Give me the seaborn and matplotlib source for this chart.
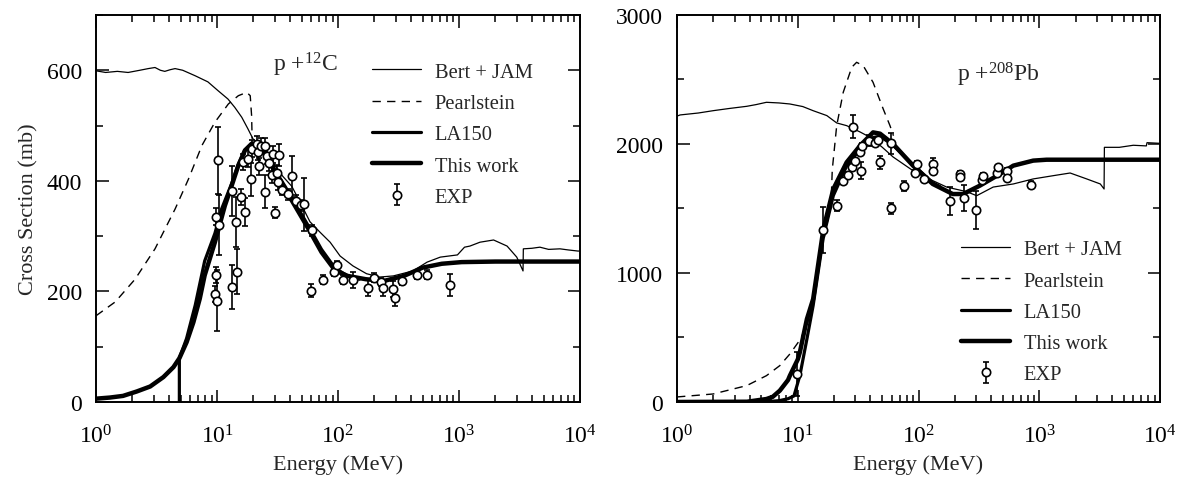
import numpy as np
import pandas as pd
import matplotlib
matplotlib.use('Agg')
import matplotlib.pyplot as plt
from matplotlib.ticker import MultipleLocator, LogLocator, NullFormatter
import seaborn as sns

# --- p + 12C ---
c_bert_e = [1, 1.2, 1.5, 1.84, 2.3, 2.7, 3.07, 3.4, 3.7, 4.1, 4.5, 5.2, 6.6, 8.4, 10.2, 12.3, 14, 16,
            18, 19.8, 22, 26, 30, 35, 41.5, 50, 58.6, 71, 86, 104, 133, 172, 221, 286, 416, 545, 700,
            970, 1110, 1230, 1490, 1930, 2495, 3000, 3380, 3400, 4000, 4660, 5500, 6830, 8000, 9600, 10000]
c_bert_s = [599, 596, 598, 596, 600, 603, 605, 600, 598, 601, 603, 600, 590, 579, 563, 548, 533, 515,
            494, 476, 466, 448, 428, 408, 390, 356, 326, 307, 289, 264, 246, 232, 226, 228, 237, 253, 262,
            266, 280, 282, 289, 293, 282, 262, 237, 277, 278, 280, 276, 277, 275, 273, 273]

c_pearl_e = [1, 1.44, 2.1, 3.07, 4.5, 5.8, 7.5, 9.6, 12.4, 15, 17.6, 18.8, 19.3, 19.5]
c_pearl_s = [156, 181, 222, 277, 349, 403, 464, 506, 539, 554, 560, 554, 518, 476]

c_la150_e = [4.88, 4.88, 5.6, 6.6, 7.9, 9.6, 10.9, 13.2, 15, 17, 19.3, 22, 24.9, 30, 36.5, 44, 57, 73,
             94.5, 120, 150]
c_la150_s = [0, 79, 115, 175, 255, 305, 349, 395, 430, 456, 467, 468, 455, 420, 390, 360, 318, 276,
             242, 228, 222]

c_work_e = [1, 1.3, 1.67, 2.17, 2.8, 3.6, 4.36, 4.88, 5.6, 6.37, 7.2, 7.9, 9.6, 11.6, 13.2, 15, 17,
            19.3, 22, 24.9, 30, 36.5, 44, 57, 73, 94.5, 120, 170, 240, 350, 500, 720, 1050, 2000,
            5000, 10000]
c_work_s = [6, 8, 11, 19, 28, 45, 63, 79, 108, 144, 187, 229, 289, 355, 391, 428, 455,
            467, 467, 452, 416, 385, 355, 313, 271, 238, 228, 222, 219, 228, 243, 250, 253, 254,
            254, 254]

c_exp_e = [9.7, 9.8, 9.8, 10.0, 10.1, 10.4, 13.2, 13.3, 14.3, 14.6, 15.8, 16.3, 17.0, 18.0, 19.1, 19.3,
           21.3, 21.8, 22.3, 23.0, 24.9, 24.9, 25.8, 26.8, 28.6, 29.0, 30.0, 31.0, 32.0, 32.5, 34.5,
           38.5, 41.5, 45.0, 49.0, 52.4, 60.6, 60.0, 75.0, 93.0, 98.0, 110.0, 132.0, 177.0, 200.0,
           227.0, 234.0, 283.0, 296.0, 336.0, 448.0, 543.0, 843.0]
c_exp_s = [195, 230, 335, 183, 437, 320, 208, 382, 326, 236, 371, 434, 344, 440, 403, 458,
           466, 452, 426, 463, 463, 380, 445, 432, 411, 448, 342, 414, 398, 446, 384,
           376, 408, 364, 356, 358, 311, 201, 221, 235, 247, 221, 221, 206, 225,
           217, 206, 204, 188, 219, 230, 230, 211]
c_exp_err = [15, 15, 15, 55, 60, 55, 40, 45, 45, 40, 15, 15, 25, 15, 30, 15,
             15, 15, 15, 15, 15, 30, 15, 15, 15, 15, 10, 15, 15, 20, 10,
             10, 37, 10, 10, 48, 10, 12, 8, 8, 8, 8, 15, 15, 8,
             8, 15, 15, 15, 8, 8, 8, 20]

# --- p + 208Pb ---
pb_bert_e = [1, 1.06, 1.5, 1.99, 2.7, 3.78, 4.5, 5.5, 7, 8.6, 11, 13.4, 17.4, 21, 25.4, 32.8, 40, 50,
             61.6, 90, 131, 171, 251, 303, 415, 609, 890, 1300, 1800, 2470, 3200, 3440, 3460, 4600,
             6000, 7700, 7800, 10000]
pb_bert_s = [2216, 2225, 2240, 2258, 2275, 2292, 2305, 2323, 2318, 2310, 2290, 2258, 2220, 2163, 2142,
             2093, 2050, 1975, 1899, 1793, 1716, 1666, 1630, 1599, 1666, 1690, 1729, 1754, 1775, 1729,
             1690, 1651, 1974, 1974, 1990, 1985, 2010, 2005]

pb_pearl_e = [1, 1.99, 3.78, 5.5, 7.1, 8.6, 10.4, 12, 14, 16, 17.9, 18.8, 19.3, 21, 23.8, 28, 30.7,
              34.8, 42, 51, 58, 62]
pb_pearl_s = [39, 62, 127, 204, 282, 372, 480, 600, 880, 1200, 1430, 1500, 1800, 2142, 2401, 2595, 2633,
              2607, 2478, 2271, 2142, 2064]

pb_la150_e = [1, 5, 7, 8.3, 9.3, 10.4, 11.9, 13.4, 16.3, 19.7, 25.4, 32.8, 42, 48, 61.6, 90, 131, 150]
pb_la150_s = [0, 0, 10, 25, 47, 204, 488, 747, 1280, 1600, 1830, 1960, 2050, 2060, 1990, 1840, 1700,
              1670]

pb_work_e = [1, 3.8, 5.5, 6.2, 7.1, 8.3, 8.6, 10, 10.4, 11.9, 13.4, 16.3, 19.7, 25.4, 32.8, 42, 48,
             61.6, 90, 131, 192, 234, 322, 472, 609, 890, 1150, 3000, 10000]
pb_work_s = [0, 2, 23, 40, 88, 170, 204, 330, 385, 643, 798, 1341, 1651, 1858, 1987, 2090, 2080,
             2000, 1832, 1690, 1612, 1612, 1677, 1767, 1832, 1871, 1878, 1878, 1878]

pb_exp_e = [9.83, 16.1, 21.0, 23.5, 25.9, 27.9, 28.8, 30.0, 32.8, 33.3, 34.1, 39.2, 43.3, 46.6, 48.0,
            59.0, 59.0, 75.6, 93.6, 98.0, 111.5, 131.0, 132.0, 182.0, 220.0, 222.0, 238.0, 300.0,
            334.0, 340.0, 445.0, 456.0, 539.0, 545.0, 849.0]
pb_exp_s = [217, 1333, 1522, 1716, 1760, 1819, 2134, 1871, 1936, 1793, 1987, 2026, 2005, 2034, 1858,
            2005, 1501, 1672, 1775, 1845, 1729, 1845, 1793, 1560, 1767, 1741, 1581, 1488,
            1721, 1754, 1775, 1819, 1793, 1738, 1685]
pb_exp_err = [170, 180, 40, 20, 20, 20, 90, 20, 20, 65, 20, 45, 20, 20, 50,
              80, 45, 40, 20, 20, 20, 50, 20, 110, 20, 20, 100, 150,
              20, 20, 20, 20, 20, 20, 25]

sns.set_theme(style='ticks')
plt.rcParams['font.family'] = ['Liberation Serif', 'DejaVu Serif']
plt.rcParams['mathtext.fontset'] = 'custom'
plt.rcParams['mathtext.rm'] = 'Liberation Serif'
plt.rcParams['mathtext.it'] = 'Liberation Serif:italic'

fig = plt.figure(figsize=(11.83, 4.81), dpi=100)
ax1 = fig.add_axes([0.0812, 0.1622, 0.4091, 0.8046])
ax2 = fig.add_axes([0.5723, 0.1622, 0.4083, 0.8046])


def draw_panel(ax, bert, pearl, la150, work, exp):
    sns.lineplot(x=bert[0], y=bert[1], ax=ax, color='black', lw=0.9, sort=False,
                 estimator=None, label='Bert + JAM')
    sns.lineplot(x=pearl[0], y=pearl[1], ax=ax, color='black', lw=1.0, sort=False,
                 estimator=None, label='Pearlstein', linestyle=(0, (6, 4.5)))
    sns.lineplot(x=la150[0], y=la150[1], ax=ax, color='black', lw=2.3, sort=False,
                 estimator=None, label='LA150')
    sns.lineplot(x=work[0], y=work[1], ax=ax, color='black', lw=3.2, sort=False,
                 estimator=None, label='This work')
    ax.errorbar(exp[0], exp[1], yerr=exp[2], fmt='o', color='black', mfc='white', mec='black',
                ms=6, mew=1.2, elinewidth=1.2, capsize=2.5, capthick=1.2, label='EXP', zorder=5)


draw_panel(ax1, (c_bert_e, c_bert_s), (c_pearl_e, c_pearl_s), (c_la150_e, c_la150_s),
           (c_work_e, c_work_s), (c_exp_e, c_exp_s, c_exp_err))
draw_panel(ax2, (pb_bert_e, pb_bert_s), (pb_pearl_e, pb_pearl_s), (pb_la150_e, pb_la150_s),
           (pb_work_e, pb_work_s), (pb_exp_e, pb_exp_s, pb_exp_err))

for ax in (ax1, ax2):
    ax.set_xscale('log')
    ax.set_xlim(1, 1e4)
    ax.xaxis.set_major_locator(LogLocator(base=10, numticks=10))
    ax.xaxis.set_minor_locator(LogLocator(base=10, subs=np.arange(2, 10), numticks=20))
    ax.xaxis.set_minor_formatter(NullFormatter())
    ax.tick_params(which='both', direction='in', top=True, right=True, colors='black',
                   labelsize=17, width=1.1)
    ax.tick_params(which='major', length=9)
    ax.tick_params(which='minor', length=5)
    ax.tick_params(axis='x', pad=16)
    ax.tick_params(axis='y', pad=10)
    for sp in ax.spines.values():
        sp.set_linewidth(1.4)
        sp.set_color('black')
    ax.set_xlabel('Energy (MeV)', fontsize=16, labelpad=5)
    ax.set_ylabel('')

ax1.set_ylim(0, 700)
ax1.yaxis.set_major_locator(MultipleLocator(200))
ax1.yaxis.set_minor_locator(MultipleLocator(100))
ax1.set_ylabel('Cross Section (mb)', fontsize=16, labelpad=6)

ax2.set_ylim(0, 3000)
ax2.yaxis.set_major_locator(MultipleLocator(1000))
ax2.yaxis.set_minor_locator(MultipleLocator(500))

ax1.text(0.366, 0.873, r'p +$^{12}$C', transform=ax1.transAxes, fontsize=17, va='center')
ax2.text(0.58, 0.848, r'p +$^{208}$Pb', transform=ax2.transAxes, fontsize=17, va='center')

for ax, anchor in ((ax1, (0.570, 0.878)), (ax2, (0.588, 0.419))):
    h, l = ax.get_legend_handles_labels()
    ax.legend(h, l, loc='upper left', bbox_to_anchor=anchor, frameon=False, fontsize=14.8,
              borderpad=0, borderaxespad=0, handlelength=2.4, handletextpad=0.65,
              labelspacing=0.58)

fig.savefig('out.png', dpi=100)
